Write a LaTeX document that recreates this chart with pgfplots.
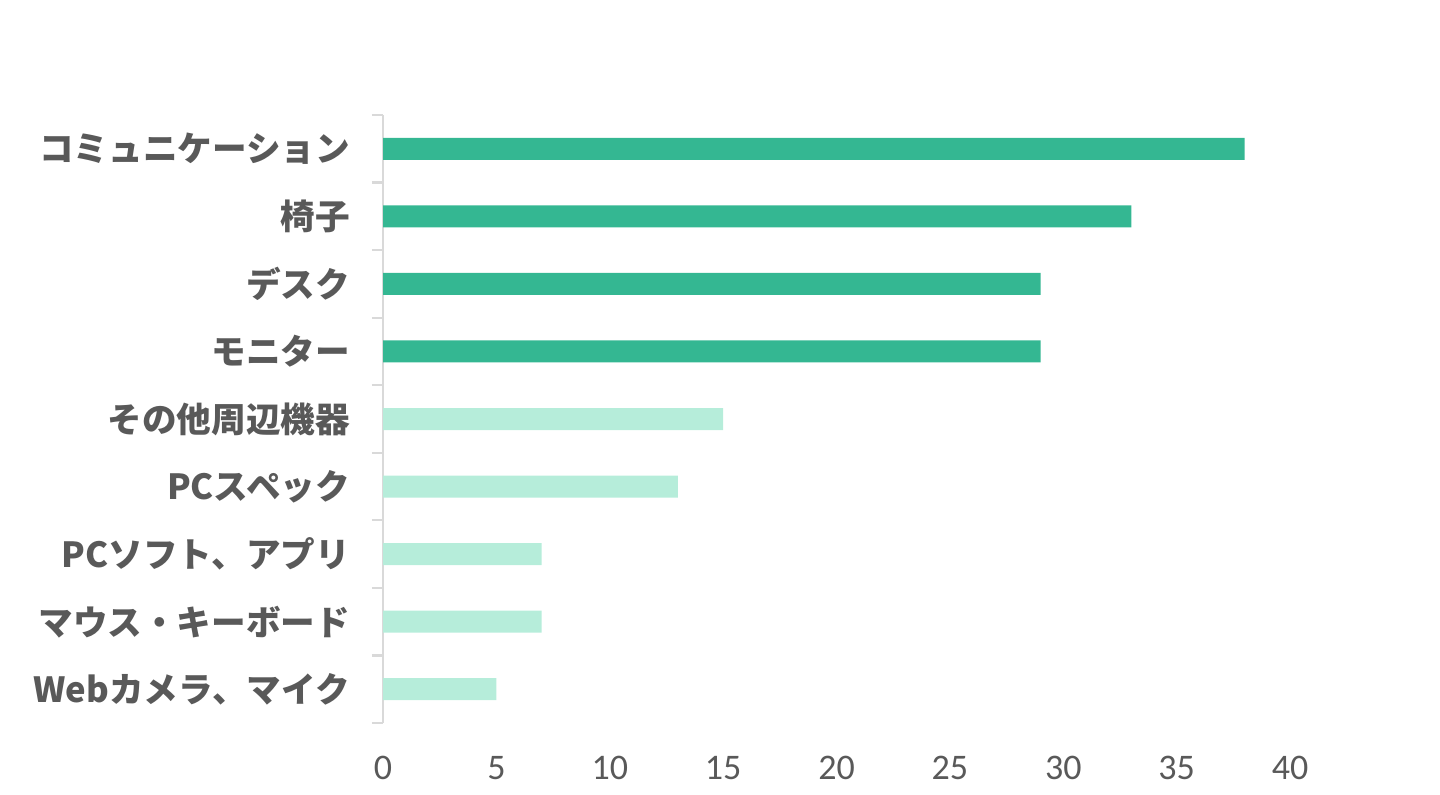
\documentclass[border=0pt]{standalone}
\usepackage{pgfplots}
\pgfplotsset{compat=1.18}
\usepackage{fontspec}
\setmainfont{Carlito}
\newfontfamily\cjk{Noto Sans CJK JP}
\definecolor{txt}{HTML}{595959}
\definecolor{dark}{HTML}{34B792}
\definecolor{light}{HTML}{B6EDDA}
\definecolor{axl}{HTML}{D9D9D9}
\begin{document}
\begin{tikzpicture}
\useasboundingbox (0,0) rectangle (720bp,397.5bp);
\begin{axis}[
  at={(191.5bp,36bp)}, anchor=south west,
  scale only axis, width=453.5bp, height=304bp,
  xmin=0, xmax=40, ymin=-0.5, ymax=8.5, y dir=reverse,
  xtick={0,5,...,40},
  ytick={0,...,8},
  yticklabels={{コミュニケーション},{椅子},{デスク},{モニター},{その他周辺機器},{PCスペック},{PCソフト、アプリ},{マウス・キーボード},{Webカメラ、マイク}},
  minor ytick={-0.5,0.5,...,8.5},
  /pgf/number format/assume math mode=true,
  axis lines=left,
  axis line style={-, draw=axl, line width=1.1bp},
  x axis line style={draw=none},
  major tick length=0pt,
  minor tick length=5.5bp,
  tick align=outside,
  minor tick style={draw=axl, line width=1.1bp},
  xticklabel style={font=\fontsize{18bp}{20bp}\selectfont, text=txt, yshift=-13bp},
  yticklabel style={font=\cjk\bfseries\fontsize{17.3bp}{20bp}\selectfont, text=txt, xshift=-13bp},
  xbar, bar width=11bp, bar shift=0pt,
]
\addplot[fill=dark, draw=none] coordinates {(38,0) (33,1) (29,2) (29,3)};
\addplot[fill=light, draw=none] coordinates {(15,4) (13,5) (7,6) (7,7) (5,8)};
\end{axis}
\end{tikzpicture}
\end{document}
